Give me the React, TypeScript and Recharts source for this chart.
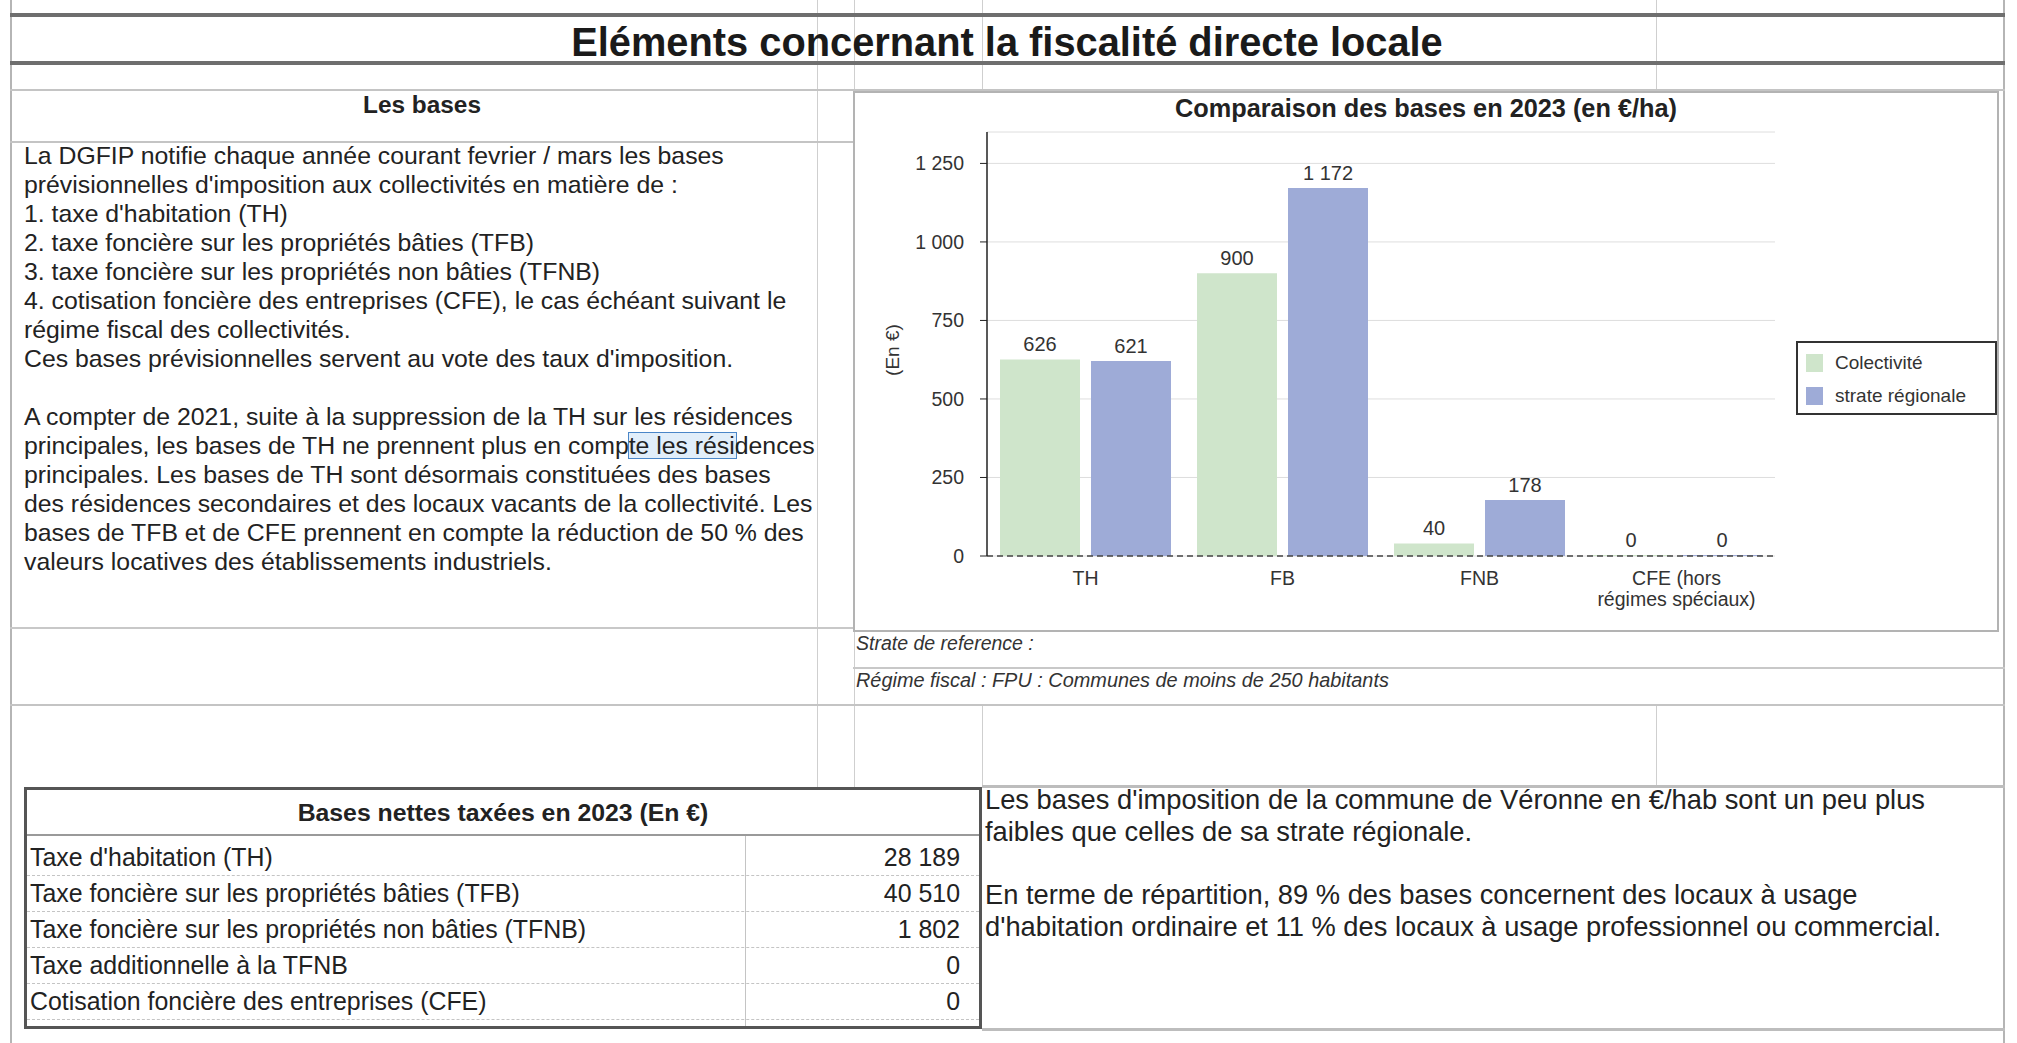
import { BarChart, Bar, XAxis, YAxis, CartesianGrid, LabelList, Legend } from 'recharts';

// chart values (€/ha)
const categories = ['TH', 'FB', 'FNB', 'CFE (hors\nrégimes spéciaux)'];
const collectivite = [626, 900, 40, 0];
const strateRegionale = [621, 1172, 178, 0];
const yTicks = [0, 250, 500, 750, 1000, 1250];
const seriesNames = ['Colectivité', 'strate régionale'];
const seriesColors = ['#cfe5cb', '#9eabd7'];

// sheet texts
const pageTitle = 'Eléments concernant la fiscalité directe locale';
const chartTitle = 'Comparaison des bases en 2023 (en €/ha)';
const introLines = [
  'La DGFIP notifie chaque année courant fevrier / mars les bases',
  "prévisionnelles d'imposition aux collectivités en matière de :",
  "1. taxe d'habitation (TH)",
  '2. taxe foncière sur les propriétés bâties (TFB)',
  '3. taxe foncière sur les propriétés non bâties (TFNB)',
  '4. cotisation foncière des entreprises (CFE), le cas échéant suivant le',
  'régime fiscal des collectivités.',
  "Ces bases prévisionnelles servent au vote des taux d'imposition.",
  '',
  'A compter de 2021, suite à la suppression de la TH sur les résidences',
  'principales, les bases de TH ne prennent plus en compte les résidences',
  'principales. Les bases de TH sont désormais constituées des bases',
  'des résidences secondaires et des locaux vacants de la collectivité. Les',
  'bases de TFB et de CFE prennent en compte la réduction de 50 % des',
  'valeurs locatives des établissements industriels.',
];
const tableLabels = [
  "Taxe d'habitation (TH)",
  'Taxe foncière sur les propriétés bâties (TFB)',
  'Taxe foncière sur les propriétés non bâties (TFNB)',
  'Taxe additionnelle à la TFNB',
  'Cotisation foncière des entreprises (CFE)',
];
const tableValues = [28189, 40510, 1802, 0, 0];
const commentLines = [
  "Les bases d'imposition de la commune de Véronne en €/hab sont un peu plus",
  'faibles que celles de sa strate régionale.',
  '',
  'En terme de répartition, 89 % des bases concernent des locaux à usage',
  "d'habitation ordinaire et 11 % des locaux à usage professionnel ou commercial.",
];

const data = categories.map((name, i) => ({
  name,
  collectivite: collectivite[i],
  strate: strateRegionale[i],
}));

const fmt = (v: any) => String(v).replace(/\B(?=(\d{3})+(?!\d))/g, ' ');

const FONT = '"Liberation Sans", Arial, sans-serif';

function CategoryTick({ x, y, payload }: any) {
  const lines = String(payload.value).split('\n');
  return (
    <text x={x} y={y} textAnchor="middle" fontSize={19.5} fill="#333" fontFamily={FONT}>
      {lines.map((l, i) => (
        <tspan key={i} x={x} dy={i === 0 ? 29 : 21}>
          {l}
        </tspan>
      ))}
    </text>
  );
}

function LegendBox({ payload }: any) {
  return (
    <div
      style={{
        width: 201,
        height: 74,
        boxSizing: 'border-box',
        border: '2px solid #333',
        background: '#fff',
        fontFamily: FONT,
        fontSize: 19,
        color: '#333',
        paddingTop: 3,
      }}
    >
      {(payload || []).map((p: any) => (
        <div key={p.value} style={{ display: 'flex', alignItems: 'center', height: 33, paddingLeft: 8 }}>
          <span style={{ width: 17, height: 18, background: p.color, marginRight: 12, display: 'inline-block' }} />
          {p.value}
        </div>
      ))}
    </div>
  );
}

function YLabel({ viewBox }: any) {
  const cx = viewBox.x + 39;
  const cy = viewBox.y + viewBox.height / 2 + 6;
  return (
    <text x={cx} y={cy} transform={`rotate(-90 ${cx} ${cy})`} textAnchor="middle" dominantBaseline="central" fontSize={19} fill="#333" fontFamily={FONT}>
      (En €)
    </text>
  );
}

function BasesChart() {
  return (
    <BarChart
      width={1146}
      height={541}
      data={data}
      margin={{ top: 41, right: 224, bottom: 0, left: 0 }}
      barCategoryGap={13}
      barGap={11}
    >
      <CartesianGrid vertical={false} stroke="#dedede" />
      <XAxis
        dataKey="name"
        height={76}
        interval={0}
        tickLine={false}
        tickSize={0}
        tickMargin={0}
        axisLine={{ stroke: '#444', strokeDasharray: '6 4', strokeWidth: 1.5 }}
        tick={<CategoryTick />}
      />
      <YAxis
        width={134}
        domain={[0, 1350]}
        ticks={yTicks}
        tickFormatter={fmt}
        tickSize={7}
        tickMargin={16}
        axisLine={{ stroke: '#222', strokeWidth: 1.5 }}
        tickLine={{ stroke: '#222' }}
        tick={{ fontSize: 19.5, fill: '#333', fontFamily: FONT }}
        label={<YLabel />}
      />
      <Legend
        layout="horizontal"
        verticalAlign="middle"
        align="center"
        content={<LegendBox />}
        wrapperStyle={{ left: 943, top: 250, width: 201, height: 74 }}
      />
      <Bar dataKey="collectivite" name={seriesNames[0]} fill={seriesColors[0]} minPointSize={1} isAnimationActive={false}>
        <LabelList dataKey="collectivite" position="top" offset={8} formatter={fmt} style={{ fontSize: 20, fill: '#333', fontFamily: FONT }} />
      </Bar>
      <Bar dataKey="strate" name={seriesNames[1]} fill={seriesColors[1]} minPointSize={1} isAnimationActive={false}>
        <LabelList dataKey="strate" position="top" offset={8} formatter={fmt} style={{ fontSize: 20, fill: '#333', fontFamily: FONT }} />
      </Bar>
    </BarChart>
  );
}

const hl = (x1: number, x2: number, y: number, w = 1, c = '#cfcfcf') => (
  <div key={`h${x1}-${y}`} style={{ position: 'absolute', left: x1, top: y - w / 2, width: x2 - x1, height: w, background: c }} />
);
const vl = (x: number, y1: number, y2: number, w = 1, c = '#cfcfcf') => (
  <div key={`v${x}-${y1}`} style={{ position: 'absolute', left: x - w / 2, top: y1, width: w, height: y2 - y1, background: c }} />
);

const ROW = 36;

export default function App() {
  return (
    <div
      style={{
        position: 'absolute',
        left: 0,
        top: 0,
        width: 2017,
        height: 1043,
        background: '#fff',
        overflow: 'hidden',
        fontFamily: FONT,
        color: '#222',
      }}
    >
      {/* sheet grid */}
      {vl(11, 0, 1043, 2, '#b5b5b5')}
      {vl(817, 0, 787)}
      {vl(854, 0, 91)}
      {vl(854, 632, 787)}
      {vl(982, 0, 91)}
      {vl(982, 705, 787)}
      {vl(1656, 0, 91)}
      {vl(1656, 705, 787)}
      {vl(2004, 0, 1043, 2, '#b5b5b5')}
      {hl(10, 2005, 15, 4, '#6e6e6e')}
      {hl(10, 2005, 63, 4, '#6e6e6e')}
      {hl(10, 2005, 90, 2, '#c4c4c4')}
      {hl(10, 853, 142, 2, '#c4c4c4')}
      {hl(10, 853, 628, 2, '#c8c8c8')}
      {hl(853, 2005, 668, 2, '#c8c8c8')}
      {hl(10, 2005, 705, 2, '#c4c4c4')}
      {hl(982, 2005, 786, 3, '#bdbdbd')}
      {hl(982, 2005, 1029, 3, '#bdbdbd')}

      {/* page title */}
      <div style={{ position: 'absolute', left: 10, top: 18, width: 1994, lineHeight: '48px', textAlign: 'center', fontWeight: 'bold', fontSize: 39.8, color: '#1a1a1a' }}>
        {pageTitle}
      </div>

      {/* left block */}
      <div style={{ position: 'absolute', left: 26, top: 90, width: 792, lineHeight: '30px', textAlign: 'center', fontWeight: 'bold', fontSize: 24.4 }}>
        Les bases
      </div>
      <div style={{ position: 'absolute', left: 628, top: 432, width: 109, height: 27, boxSizing: 'border-box', border: '1.5px solid #4a86c8', background: 'rgba(170,205,240,0.35)' }} />
      <div style={{ position: 'absolute', left: 24, top: 140.5, fontSize: 24.8, lineHeight: '29px', whiteSpace: 'pre' }}>
        {introLines.map((l, i) => (
          <div key={i} style={{ height: 29 }}>{l}</div>
        ))}
      </div>

      {/* chart */}
      <div style={{ position: 'absolute', left: 853, top: 91, width: 1146, height: 541 }}>
        <BasesChart />
        <div style={{ position: 'absolute', left: 0, top: 2, width: 1146, lineHeight: '30px', textAlign: 'center', fontWeight: 'bold', fontSize: 25.3, color: '#222' }}>
          {chartTitle}
        </div>
        <div style={{ position: 'absolute', left: 0, top: 0, width: 1146, height: 541, boxSizing: 'border-box', border: '2px solid #b3b3b3', pointerEvents: 'none' }} />
      </div>
      <div style={{ position: 'absolute', left: 856, top: 631, fontSize: 19.5, lineHeight: '24px', fontStyle: 'italic', color: '#333' }}>
        Strate de reference :
      </div>
      <div style={{ position: 'absolute', left: 856, top: 668, fontSize: 19.9, lineHeight: '24px', fontStyle: 'italic', color: '#333' }}>
        Régime fiscal : FPU : Communes de moins de 250 habitants
      </div>

      {/* table */}
      <div style={{ position: 'absolute', left: 24, top: 787, width: 958, height: 242, boxSizing: 'border-box', border: '3px solid #555' }} />
      <div style={{ position: 'absolute', left: 24, top: 790, width: 958, lineHeight: '45px', textAlign: 'center', fontWeight: 'bold', fontSize: 24.8 }}>
        Bases nettes taxées en 2023 (En €)
      </div>
      {hl(27, 979, 835, 2, '#9a9a9a')}
      {vl(745, 836, 1026, 1, '#c4c4c4')}
      {tableLabels.map((label, i) => (
        <div key={label}>
          <div style={{ position: 'absolute', left: 30, top: 839 + i * ROW, lineHeight: `${ROW}px`, fontSize: 24.9, whiteSpace: 'nowrap' }}>{label}</div>
          <div style={{ position: 'absolute', left: 750, width: 210, top: 839 + i * ROW, lineHeight: `${ROW}px`, fontSize: 24.9, textAlign: 'right' }}>
            {fmt(tableValues[i])}
          </div>
          <div style={{ position: 'absolute', left: 27, top: 875 + i * ROW, width: 952, borderTop: '1px dashed #c4c4c4' }} />
        </div>
      ))}

      {/* comment */}
      <div style={{ position: 'absolute', left: 985, top: 784, fontSize: 27.3, lineHeight: '31.7px', whiteSpace: 'pre' }}>
        {commentLines.map((l, i) => (
          <div key={i} style={{ height: 31.7 }}>{l}</div>
        ))}
      </div>
    </div>
  );
}
